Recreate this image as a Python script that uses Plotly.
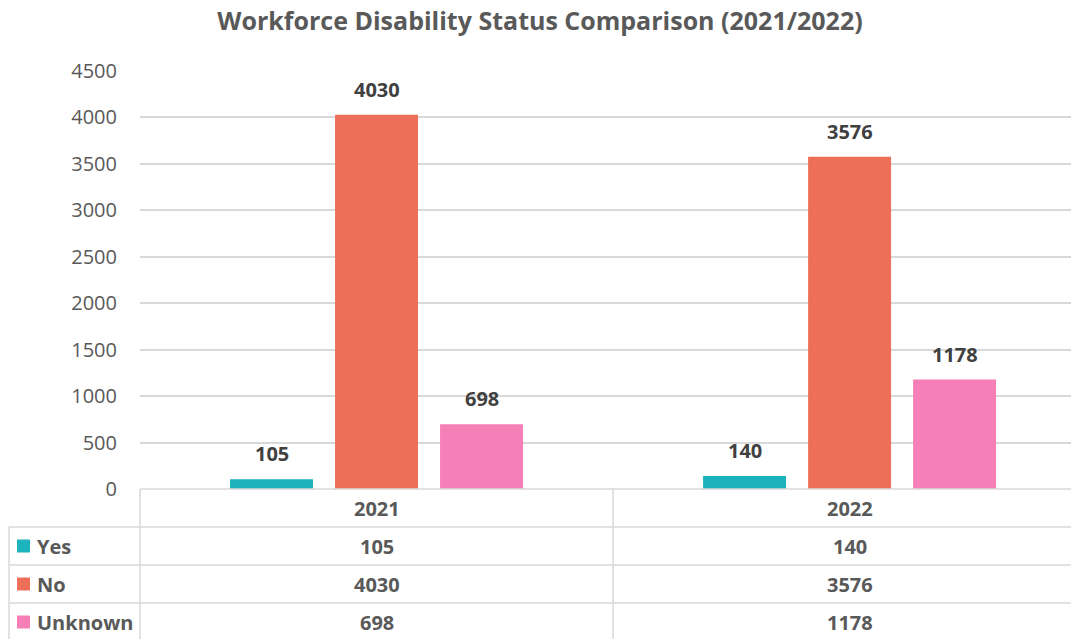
import plotly.graph_objects as go

# chart data
years = ["2021", "2022"]
statuses = ["Yes", "No", "Unknown"]
yes_counts = [105, 140]
no_counts = [4030, 3576]
unknown_counts = [698, 1178]
y_ticks = [0, 500, 1000, 1500, 2000, 2500, 3000, 3500, 4000, 4500]

colors = ["#1DB3BD", "#ED6F58", "#F57FB6"]
series = [yes_counts, no_counts, unknown_counts]

FONT = "Open Sans"
GRID = "#D9D9D9"
TXT = "#595959"
LBL = "#404040"

# page body has an 8px margin, so the figure is a little smaller than the window
OFF = 8
W, H = 1079 - OFF, 639 - OFF
L, R, T, B = 140 - OFF, 0, 71 - OFF, 639 - 489
plot_h = H - T - B
plot_w = W - L - R

BARGAP, GROUPGAP = 0.334, 0.21


def py(pix):
    # window pixel row -> paper y
    return (H - B - (pix - OFF)) / plot_h


def px(pix):
    # window pixel column -> paper x
    return (pix - OFF - L) / plot_w


fig = go.Figure()
for name, vals, col in zip(statuses, series, colors):
    fig.add_trace(go.Bar(
        x=years, y=vals, name=name,
        marker=dict(color=col, line=dict(width=0)),
    ))

annotations = []
# data labels above the bars
slot = (1 - BARGAP) / len(statuses)
label_font = dict(family=FONT, size=20, color=LBL, weight="bold")
for i, vals in enumerate(series):
    for j, v in enumerate(vals):
        annotations.append(dict(x=j + (i - 1) * slot, y=v, xref="x", yref="y", text=str(v),
                                showarrow=False, font=label_font, xanchor="center",
                                yanchor="bottom", yshift=10))

# data table below the plot
row_h = 38
top = 489
shapes = []
line = dict(color=GRID, width=1.5)
shapes.append(dict(type="line", xref="paper", yref="paper", x0=0, x1=1, y0=py(top), y1=py(top), line=line))
for i in range(1, 4):
    yy = py(top + i * row_h)
    shapes.append(dict(type="line", xref="paper", yref="paper", x0=px(9), x1=1, y0=yy, y1=yy, line=line))
shapes.append(dict(type="line", xref="paper", yref="paper", x0=0, x1=0, y0=py(top), y1=py(650), line=line))
shapes.append(dict(type="line", xref="x", yref="paper", x0=0.5, x1=0.5, y0=py(top), y1=py(650), line=line))
shapes.append(dict(type="line", xref="paper", yref="paper", x0=px(9), x1=px(9), y0=py(top + row_h), y1=py(650), line=line))

cell_font = dict(family=FONT, size=20, color=TXT, weight="bold")
for j, yr in enumerate(years):
    annotations.append(dict(x=j, y=py(top + row_h / 2), xref="x", yref="paper", text=yr,
                            showarrow=False, font=cell_font, xanchor="center", yanchor="middle"))
for i, (name, vals, col) in enumerate(zip(statuses, series, colors)):
    cy = top + row_h * (i + 1) + row_h / 2
    shapes.append(dict(type="rect", xref="paper", yref="paper", x0=px(17), x1=px(30),
                       y0=py(cy - 6.5), y1=py(cy + 6.5), fillcolor=col, line=dict(width=0)))
    annotations.append(dict(x=px(35), y=py(cy), xref="paper", yref="paper", text=name,
                            showarrow=False, font=cell_font, xanchor="left", yanchor="middle"))
    for j, v in enumerate(vals):
        annotations.append(dict(x=j, y=py(cy), xref="x", yref="paper", text=str(v),
                                showarrow=False, font=cell_font, xanchor="center", yanchor="middle"))

fig.update_layout(
    width=W, height=H,
    margin=dict(l=L, r=R, t=T, b=B),
    paper_bgcolor="white", plot_bgcolor="white",
    barmode="group", bargap=BARGAP, bargroupgap=GROUPGAP,
    showlegend=False,
    title=dict(text="<b>Workforce Disability Status Comparison (2021/2022)</b>",
               x=(540 - OFF) / W, xref="container", xanchor="center",
               y=1 - 4 / H, yref="container", yanchor="top", pad=dict(t=0, b=0),
               font=dict(family=FONT, size=25, color=TXT)),
    font=dict(family=FONT, color=TXT),
    xaxis=dict(range=[-0.5, 1.485], showticklabels=False, showgrid=False,
               zeroline=False, showline=False, ticks=""),
    yaxis=dict(range=[0, 4500], tickvals=y_ticks, showgrid=True, gridcolor=GRID,
               gridwidth=1.5, zeroline=False, showline=False, ticks="",
               ticklabelstandoff=22, tickfont=dict(family=FONT, size=20, color=TXT)),
    shapes=shapes,
    annotations=annotations,
)

fig.write_html("out.html")
